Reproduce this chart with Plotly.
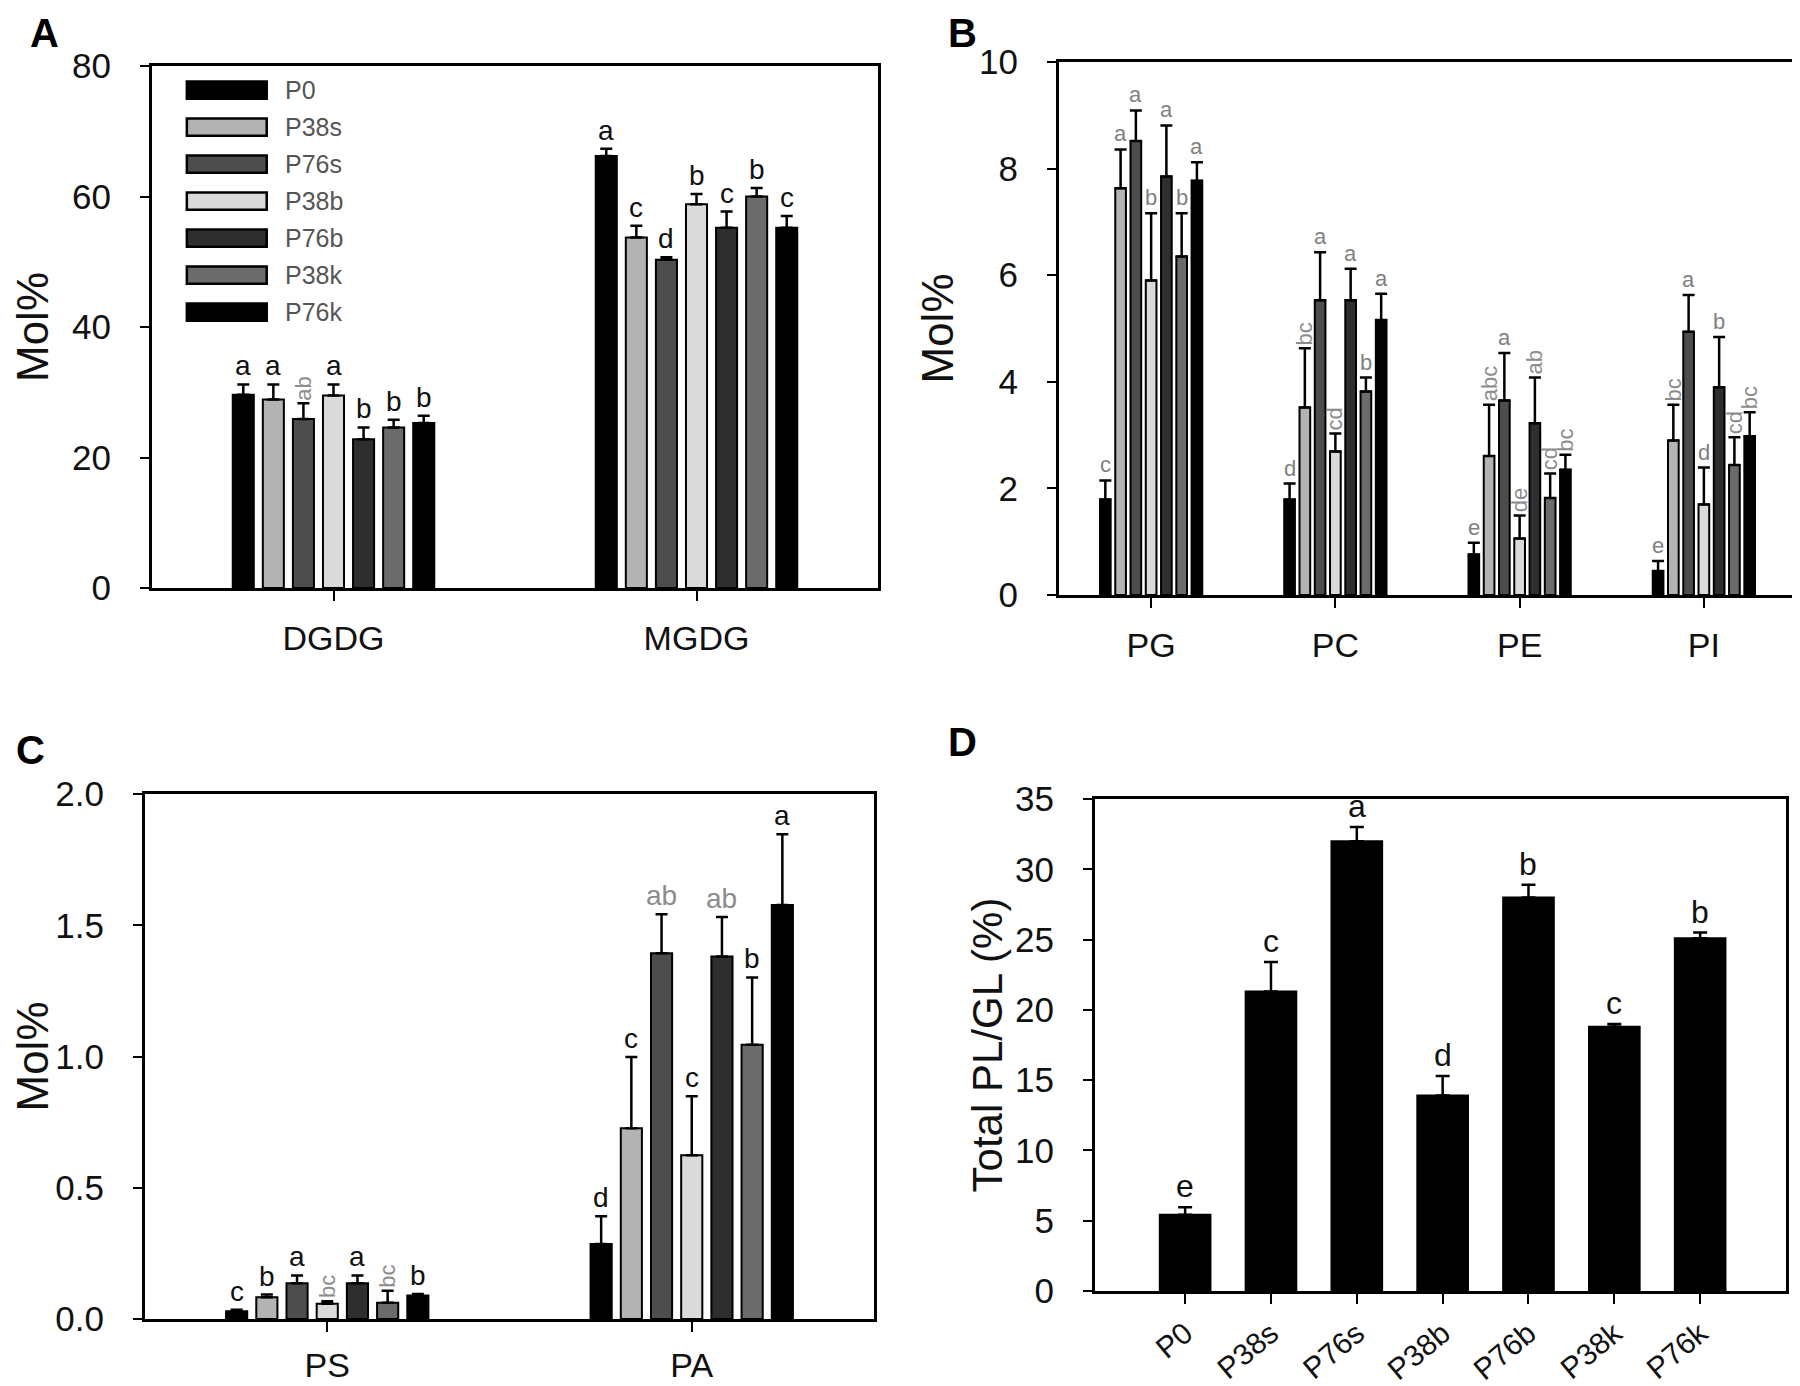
import plotly.graph_objects as go

# ---------------- data ----------------
series = ["P0", "P38s", "P76s", "P38b", "P76b", "P38k", "P76k"]
bar_colors = ["#000000", "#b3b3b3", "#4d4d4d", "#dadada", "#2e2e2e", "#6b6b6b", "#000000"]

# Panel A (glycolipids, Mol%)
A_cats = ["DGDG", "MGDG"]
A_DGDG_mean = [29.6, 28.9, 25.9, 29.5, 22.8, 24.6, 25.3]
A_DGDG_err = [1.6, 2.3, 2.4, 1.7, 1.8, 1.2, 1.1]
A_DGDG_let = ["a", "a", "ab", "a", "b", "b", "b"]
A_MGDG_mean = [66.2, 53.7, 50.3, 58.8, 55.2, 60.0, 55.2]
A_MGDG_err = [1.1, 1.8, 0.4, 1.6, 2.5, 1.3, 1.8]
A_MGDG_let = ["a", "c", "d", "b", "c", "b", "c"]

# Panel B (phospholipids, Mol%)
B_cats = ["PG", "PC", "PE", "PI"]
B_PG_mean = [1.79, 7.63, 8.52, 5.90, 7.85, 6.35, 7.77]
B_PG_err = [0.36, 0.73, 0.57, 1.26, 0.96, 0.81, 0.35]
B_PG_let = ["c", "a", "a", "b", "a", "b", "a"]
B_PC_mean = [1.79, 3.52, 5.53, 2.69, 5.53, 3.82, 5.16]
B_PC_err = [0.30, 1.11, 0.90, 0.34, 0.59, 0.26, 0.49]
B_PC_let = ["d", "bc", "a", "cd", "a", "b", "a"]
B_PE_mean = [0.76, 2.61, 3.65, 1.06, 3.22, 1.82, 2.35]
B_PE_err = [0.22, 0.96, 0.89, 0.43, 0.86, 0.46, 0.28]
B_PE_let = ["e", "abc", "a", "de", "ab", "cd", "bc"]
B_PI_mean = [0.45, 2.90, 4.94, 1.70, 3.90, 2.44, 2.98]
B_PI_err = [0.19, 0.67, 0.69, 0.69, 0.94, 0.52, 0.45]
B_PI_let = ["e", "bc", "a", "d", "b", "cd", "bc"]

# Panel C (minor phospholipids, Mol%)
C_cats = ["PS", "PA"]
C_PS_mean = [0.030, 0.083, 0.136, 0.058, 0.136, 0.062, 0.090]
C_PS_err = [0.005, 0.010, 0.030, 0.010, 0.030, 0.046, 0.005]
C_PS_let = ["c", "b", "a", "bc", "a", "bc", "b"]
C_PA_mean = [0.286, 0.727, 1.393, 0.624, 1.381, 1.045, 1.577]
C_PA_err = [0.105, 0.271, 0.149, 0.225, 0.150, 0.256, 0.270]
C_PA_let = ["d", "c", "ab", "c", "ab", "b", "a"]

# Panel D (Total PL/GL %)
D_mean = [5.43, 21.3, 32.0, 13.9, 28.0, 18.8, 25.1]
D_err = [0.53, 2.1, 1.0, 1.4, 0.9, 0.2, 0.4]
D_let = ["e", "c", "a", "d", "b", "c", "b"]

A_yticks = [0, 20, 40, 60, 80]
B_yticks = [0, 2, 4, 6, 8, 10]
C_yticks = [0.0, 0.5, 1.0, 1.5, 2.0]
D_yticks = [0, 5, 10, 15, 20, 25, 30, 35]

# ---------------- figure ----------------
FONT = "Liberation Sans, Arial, sans-serif"
BARGAP = 0.42
GROUPGAP = 0.3
n = len(series)
slot = (1 - BARGAP) / n

# page body adds an 8px offset; figure sized to fit the window
OFF = 8
W, H = 1800 - OFF, 1386 - OFF


def xd(a, b):
    return [(a - OFF) / W, (b - OFF) / W]


def yd(top, bottom):
    return [1 - (bottom - OFF) / H, 1 - (top - OFF) / H]


fig = go.Figure()

panels = [
    ("", A_cats, [A_DGDG_mean, A_MGDG_mean], [A_DGDG_err, A_MGDG_err], [A_DGDG_let, A_MGDG_let]),
    ("2", B_cats, [B_PG_mean, B_PC_mean, B_PE_mean, B_PI_mean],
     [B_PG_err, B_PC_err, B_PE_err, B_PI_err], [B_PG_let, B_PC_let, B_PE_let, B_PI_let]),
    ("3", C_cats, [C_PS_mean, C_PA_mean], [C_PS_err, C_PA_err], [C_PS_let, C_PA_let]),
]

annotations = []
letter_style = {"": (28, "#111111"), "2": (22, "#808080"), "3": (28, "#111111")}

for suf, cats, means, errs, lets in panels:
    for i, s in enumerate(series):
        fig.add_trace(go.Bar(
            x=cats, y=[m[i] for m in means], name=s,
            marker=dict(color=bar_colors[i], line=dict(color="black", width=2)),
            error_y=dict(type="data", symmetric=False, array=[e[i] for e in errs],
                         arrayminus=[0] * len(cats), color="black", thickness=2.5, width=6),
            xaxis="x" + suf, yaxis="y" + suf, showlegend=False,
        ))
        for ci, c in enumerate(cats):
            lab = lets[ci][i]
            size, col = letter_style[suf]
            rotate = len(lab) > 1 and not (suf == "3" and c == "PA")
            if len(lab) > 1:
                col = "#8c8c8c"
            annotations.append(dict(
                x=ci - (1 - BARGAP) / 2 + slot * (i + 0.5),
                y=means[ci][i] + errs[ci][i],
                xref="x" + suf, yref="y" + suf, text=lab, showarrow=False,
                yanchor="bottom", yshift=1,
                textangle=-90 if rotate else 0,
                font=dict(family=FONT, size=size if not rotate else 22, color=col),
            ))

# Panel D
fig.add_trace(go.Bar(
    x=series, y=D_mean, width=0.59,
    marker=dict(color="black", line=dict(color="black", width=2)),
    error_y=dict(type="data", symmetric=False, array=D_err, arrayminus=[0] * n,
                 color="black", thickness=2.5, width=7),
    xaxis="x4", yaxis="y4", showlegend=False,
))
for i, s in enumerate(series):
    annotations.append(dict(
        x=s, y=D_mean[i] + D_err[i], xref="x4", yref="y4", text=D_let[i],
        showarrow=False, yanchor="bottom", yshift=1,
        font=dict(family=FONT, size=32, color="#111111"),
    ))

# custom legend in panel A (wide swatches)
shapes = []
row_h = 37 / 522
for i, s in enumerate(series):
    yc = 0.954 - i * row_h
    shapes.append(dict(type="rect", xref="x domain", yref="y domain",
                       x0=0.048, x1=0.158, y0=yc - 0.0165, y1=yc + 0.0165,
                       fillcolor=bar_colors[i], line=dict(color="black", width=2.5)))
    annotations.append(dict(x=0.18, y=yc, xref="x domain", yref="y domain", text=s,
                            showarrow=False, xanchor="left", yanchor="middle",
                            font=dict(family=FONT, size=25, color="#555555")))

# panel letters (x centre, top of text box in window pixels)
for lab, x, y in [("A", 44, 9), ("B", 963, 9), ("C", 30, 726), ("D", 963, 718)]:
    annotations.append(dict(x=(x - OFF) / W, y=1 - (y - OFF) / H, xref="paper", yref="paper",
                            text="<b>%s</b>" % lab, showarrow=False,
                            xanchor="center", yanchor="top",
                            font=dict(family=FONT, size=40, color="black")))


def xax(domain, rng, anchor, tickfont=34, angle=None, standoff=8):
    d = dict(domain=domain, range=rng, anchor=anchor, type="category", automargin=False,
             showline=True, linecolor="black", linewidth=3, mirror=True,
             ticks="outside", ticklen=10, tickwidth=2, tickcolor="black",
             showgrid=False, zeroline=False, ticklabelstandoff=standoff,
             tickfont=dict(family=FONT, size=tickfont, color="#111111"))
    if angle is not None:
        d["tickangle"] = angle
    return d


def yax(domain, rng, anchor, ticks, title, fmt=None, standoff=18, tsize=44):
    d = dict(domain=domain, range=rng, anchor=anchor, automargin=False,
             showline=True, linecolor="black", linewidth=3, mirror=True,
             ticks="outside", ticklen=9, tickwidth=2, tickcolor="black",
             tickvals=ticks, showgrid=False, zeroline=False, ticklabelstandoff=22,
             tickfont=dict(family=FONT, size=35, color="#111111"),
             title=dict(text=title, standoff=standoff,
                        font=dict(family=FONT, size=tsize, color="#111111")))
    if fmt:
        d["tickformat"] = fmt
    return d


fig.update_layout(
    width=W, height=H, margin=dict(l=0, r=0, t=0, b=0, autoexpand=False),
    paper_bgcolor="white", plot_bgcolor="white",
    barmode="group", bargap=BARGAP, bargroupgap=GROUPGAP,
    showlegend=False,
    xaxis=xax(xd(152, 878), [-0.5, 1.5], "y"),
    yaxis=yax(yd(66, 588), [0, 80], "x", A_yticks, "Mol%", standoff=14),
    xaxis2=xax(xd(1059, 1796), [-0.5, 3.5], "y2"),
    yaxis2=yax(yd(62, 595), [0, 10], "x2", B_yticks, "Mol%", standoff=12),
    xaxis3=xax(xd(145, 874), [-0.5, 1.5], "y3", standoff=4),
    yaxis3=yax(yd(794, 1319), [0, 2.0], "x3", C_yticks, "Mol%", fmt=".1f", standoff=28),
    xaxis4=xax(xd(1095, 1786), [-1.05, 7.0], "y4", tickfont=30, angle=-40, standoff=0),
    yaxis4=yax(yd(799, 1291), [0, 35], "x4", D_yticks, "Total PL/GL (%)", standoff=0, tsize=42),
    annotations=annotations, shapes=shapes,
)

fig.write_html("out.html")
